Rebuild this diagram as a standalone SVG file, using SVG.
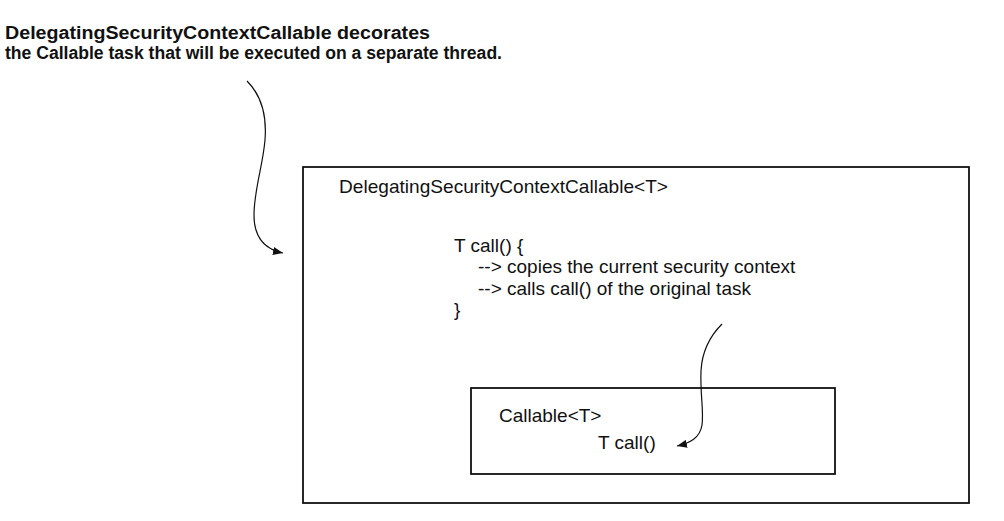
<svg xmlns="http://www.w3.org/2000/svg" width="1004" height="521" viewBox="0 0 1004 521">
<style>
.title{font-family:"Liberation Sans",Arial,sans-serif;font-weight:bold;font-size:18px;fill:#111}
.t{font-family:"Liberation Sans",Arial,sans-serif;font-size:19px;fill:#111}
.box{fill:#fff;stroke:#111;stroke-width:1.8}
.conn{fill:none;stroke:#111;stroke-width:1.2}
</style>
<defs>
<marker id="ah" viewBox="0 0 10 8" refX="10" refY="4" markerWidth="10" markerHeight="8" markerUnits="userSpaceOnUse" orient="auto">
<path d="M0,0 L10,4 L0,8 Z" fill="#111"/>
</marker>
</defs>
<rect width="1004" height="521" fill="#fff"/>
<g id="caption">
<text class="title" x="5" y="39" textLength="425" lengthAdjust="spacingAndGlyphs">DelegatingSecurityContextCallable decorates</text>
<text class="title" x="5" y="59" textLength="497" lengthAdjust="spacingAndGlyphs">the Callable task that will be executed on a separate thread.</text>
</g>
<g id="outer">
<rect class="box" x="303" y="167" width="666" height="336"/>
<text class="t" x="339" y="193" textLength="329" lengthAdjust="spacingAndGlyphs">DelegatingSecurityContextCallable&lt;T&gt;</text>
<text class="t" x="454" y="252">T call() {</text>
<text class="t" x="478" y="273">--&gt; copies the current security context</text>
<text class="t" x="478" y="295">--&gt; calls call() of the original task</text>
<text class="t" x="454" y="316">}</text>
</g>
<g id="inner">
<rect class="box" x="471" y="388" width="364" height="86"/>
<text class="t" x="499" y="422">Callable&lt;T&gt;</text>
<text class="t" x="598" y="449">T call()</text>
</g>
<g id="connectors">
<path class="conn" marker-end="url(#ah)" d="M247,81 C262,96 267,115 265,140 C263,165 254,190 254,215 C254,240 268,250 283,253"/>
<path class="conn" marker-end="url(#ah)" d="M722,324 C710,336 702,351 701,371 C700,395 704,410 702,425 C700,438 690,443 677,446"/>
</g>
</svg>
